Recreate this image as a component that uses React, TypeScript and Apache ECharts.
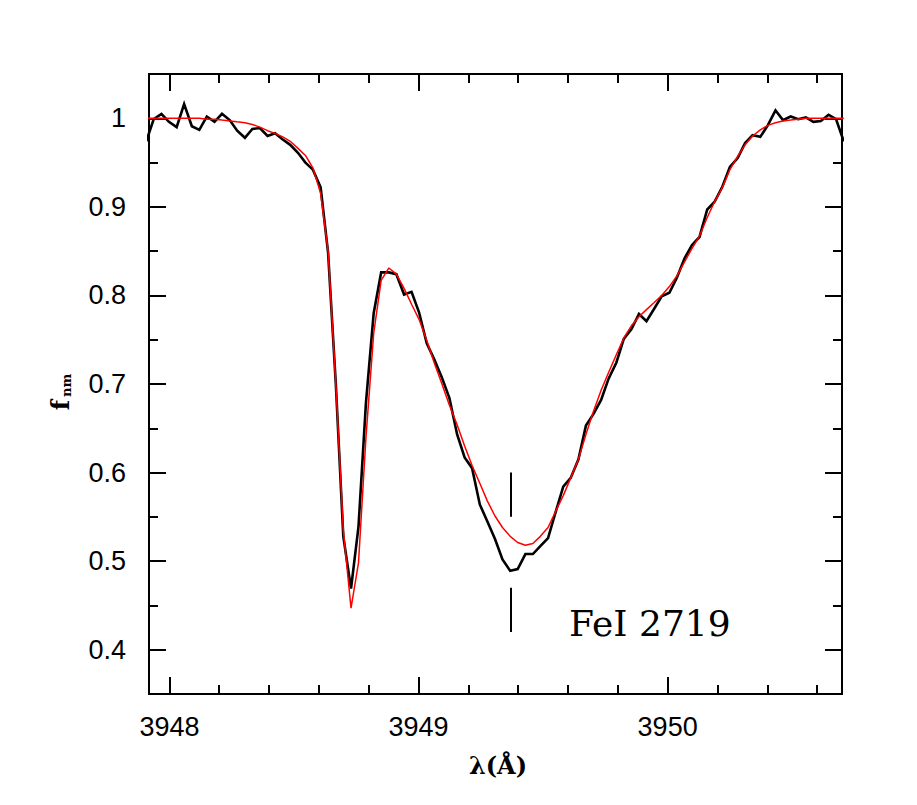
import React, { useEffect, useRef } from "react";
import * as echarts from "echarts";

// Wavelength grid of the spectrum (Å)
const WAVELENGTH = [
  3947.907, 3947.937, 3947.968, 3947.998, 3948.029, 3948.059, 3948.09, 3948.12, 3948.15, 3948.181,
  3948.211, 3948.242, 3948.272, 3948.303, 3948.333, 3948.363, 3948.394, 3948.424, 3948.455, 3948.485,
  3948.516, 3948.546, 3948.576, 3948.607, 3948.637, 3948.668, 3948.698, 3948.729, 3948.759, 3948.789,
  3948.82, 3948.85, 3948.881, 3948.911, 3948.942, 3948.972, 3949.002, 3949.033, 3949.063, 3949.094,
  3949.124, 3949.155, 3949.185, 3949.215, 3949.246, 3949.276, 3949.307, 3949.337, 3949.368, 3949.398,
  3949.429, 3949.459, 3949.489, 3949.52, 3949.55, 3949.581, 3949.611, 3949.642, 3949.672, 3949.702,
  3949.733, 3949.763, 3949.794, 3949.824, 3949.855, 3949.885, 3949.915, 3949.946, 3949.976, 3950.007,
  3950.037, 3950.068, 3950.098, 3950.128, 3950.159, 3950.189, 3950.22, 3950.25, 3950.281, 3950.311,
  3950.341, 3950.372, 3950.402, 3950.433, 3950.463, 3950.494, 3950.524, 3950.555, 3950.585, 3950.615,
  3950.646, 3950.676, 3950.707,
];

// Observed normalised flux
const OBSERVED_FLUX = [
  0.974, 0.999, 1.005, 0.996, 0.99, 1.016, 0.991, 0.987, 1.002, 0.996,
  1.005, 0.998, 0.986, 0.978, 0.988, 0.989, 0.98, 0.983, 0.976, 0.97,
  0.961, 0.95, 0.942, 0.922, 0.848, 0.7, 0.528, 0.469, 0.539, 0.679,
  0.78, 0.826, 0.826, 0.824, 0.801, 0.804, 0.781, 0.746, 0.728, 0.707,
  0.684, 0.643, 0.617, 0.605, 0.564, 0.545, 0.525, 0.502, 0.489, 0.491,
  0.508, 0.508, 0.517, 0.526, 0.555, 0.584, 0.594, 0.615, 0.653, 0.666,
  0.682, 0.706, 0.724, 0.751, 0.762, 0.779, 0.771, 0.785, 0.799, 0.803,
  0.82, 0.842, 0.857, 0.866, 0.897, 0.906, 0.923, 0.945, 0.955, 0.972,
  0.981, 0.979, 0.992, 1.009, 0.998, 1.002, 0.999, 1.001, 0.996, 0.997,
  1.004, 0.999, 0.974,
];

// Synthetic (fitted) flux
const MODEL_FLUX = [
  1.0, 1.0, 1.0, 1.0, 1.0, 1.0, 1.0, 1.0, 0.999, 0.999,
  0.998, 0.997, 0.996, 0.995, 0.993, 0.99, 0.986, 0.983, 0.979, 0.974,
  0.966, 0.958, 0.944, 0.915, 0.85, 0.7, 0.535, 0.447, 0.498, 0.64,
  0.757, 0.817, 0.831, 0.824, 0.808, 0.79, 0.773, 0.749, 0.724, 0.7,
  0.676, 0.654, 0.63, 0.608, 0.588, 0.568, 0.551, 0.538, 0.528, 0.521,
  0.518, 0.52, 0.528, 0.538, 0.556, 0.574, 0.594, 0.615, 0.643, 0.669,
  0.693, 0.713, 0.733, 0.752, 0.766, 0.776, 0.784, 0.792, 0.8, 0.81,
  0.822, 0.838, 0.853, 0.867, 0.888, 0.906, 0.922, 0.942, 0.957, 0.97,
  0.98, 0.987, 0.992, 0.995, 0.997, 0.998, 0.999, 1.0, 1.0, 1.0,
  1.0, 1.0, 1.0,
];

// Axis ranges and ticks
const X_MIN = 3947.918;
const X_MAX = 3950.7;
const Y_MIN = 0.35;
const Y_MAX = 1.05;
const X_MAJOR_TICKS = [3948, 3949, 3950];
const X_MINOR_TICKS = [
  3948.2, 3948.4, 3948.6, 3948.8, 3949.2, 3949.4, 3949.6, 3949.8, 3950.2, 3950.4, 3950.6,
];
const Y_MAJOR_TICKS = [0.4, 0.5, 0.6, 0.7, 0.8, 0.9, 1];
const Y_MINOR_TICKS = [0.45, 0.55, 0.65, 0.75, 0.85, 0.95];

// Line identification
const LINE_LABEL = "FeI 2719";
const LINE_CENTER = 3949.37;
const LINE_MARK_SPANS = [
  [0.55, 0.6],
  [0.42, 0.47],
];

const BLACK = "#000";
const TICK_FONT = "'Liberation Sans', Arial, Helvetica, sans-serif";
const SERIF = "'DejaVu Serif', 'Liberation Serif', serif";

function xAxis(position: string, values: number[], length: number, labels: boolean) {
  return {
    type: "value",
    position,
    min: X_MIN,
    max: X_MAX,
    axisLine: { show: true, onZero: false, lineStyle: { color: BLACK, width: 2 } },
    axisTick: {
      show: true,
      inside: true,
      length,
      customValues: values,
      lineStyle: { color: BLACK, width: 2 },
    },
    axisLabel: labels
      ? {
          show: true,
          customValues: values,
          margin: 19,
          fontFamily: TICK_FONT,
          fontSize: 27,
          color: BLACK,
          formatter: (v: number) => String(v),
        }
      : { show: false },
    splitLine: { show: false },
    minorTick: { show: false },
  };
}

function yAxis(position: string, values: number[], length: number, labels: boolean) {
  return {
    type: "value",
    position,
    min: Y_MIN,
    max: Y_MAX,
    axisLine: { show: true, onZero: false, lineStyle: { color: BLACK, width: 2 } },
    axisTick: {
      show: true,
      inside: true,
      length,
      customValues: values,
      lineStyle: { color: BLACK, width: 2 },
    },
    axisLabel: labels
      ? {
          show: true,
          customValues: values,
          margin: 23,
          fontFamily: TICK_FONT,
          fontSize: 27,
          color: BLACK,
          formatter: (v: number) => (v === 1 ? "1" : v.toFixed(1)),
        }
      : { show: false },
    splitLine: { show: false },
    minorTick: { show: false },
  };
}

export default function App() {
  const ref = useRef<HTMLDivElement>(null);

  useEffect(() => {
    if (!ref.current) return;
    const chart = echarts.init(ref.current, undefined, { renderer: "svg" });

    const observed = WAVELENGTH.map((w, i) => [w, OBSERVED_FLUX[i]]);
    const model = WAVELENGTH.map((w, i) => [w, MODEL_FLUX[i]]);

    chart.setOption({
      animation: false,
      backgroundColor: "#fff",
      grid: {
        left: 149,
        right: 75,
        top: 74,
        bottom: 111,
        containLabel: false,
        outerBoundsMode: "none",
      },
      xAxis: [
        xAxis("bottom", X_MAJOR_TICKS, 17, true),
        xAxis("bottom", X_MINOR_TICKS, 9, false),
        xAxis("top", X_MAJOR_TICKS, 17, false),
        xAxis("top", X_MINOR_TICKS, 9, false),
      ],
      yAxis: [
        yAxis("left", Y_MAJOR_TICKS, 17, true),
        yAxis("left", Y_MINOR_TICKS, 9, false),
        yAxis("right", Y_MAJOR_TICKS, 17, false),
        yAxis("right", Y_MINOR_TICKS, 9, false),
      ],
      series: [
        {
          name: "observed",
          type: "line",
          xAxisIndex: 0,
          yAxisIndex: 0,
          data: observed,
          showSymbol: false,
          symbol: "none",
          clip: true,
          lineStyle: { color: BLACK, width: 2.6, join: "miter" },
          z: 2,
          markLine: {
            silent: true,
            symbol: ["none", "none"],
            label: { show: false },
            lineStyle: { color: BLACK, width: 2, type: "solid" },
            data: LINE_MARK_SPANS.map(([a, b]) => [
              { coord: [LINE_CENTER, a] },
              { coord: [LINE_CENTER, b] },
            ]),
          },
        },
        {
          name: "model",
          type: "line",
          xAxisIndex: 0,
          yAxisIndex: 0,
          data: model,
          showSymbol: false,
          symbol: "none",
          clip: true,
          lineStyle: { color: "#ff0000", width: 1.5 },
          z: 3,
        },
      ],
      graphic: [
        {
          type: "group",
          x: 60,
          y: 400,
          rotation: Math.PI / 2,
          children: [
            {
              type: "text",
              x: 0,
              y: 0,
              style: {
                text: "f",
                font: `bold 24px ${SERIF}`,
                fill: BLACK,
                align: "right",
                verticalAlign: "middle",
              },
            },
            {
              type: "text",
              x: 3,
              y: 6,
              style: {
                text: "nm",
                font: `bold 13px ${SERIF}`,
                fill: BLACK,
                align: "left",
                verticalAlign: "middle",
              },
            },
          ],
        },
        {
          type: "text",
          x: 498,
          y: 765,
          style: {
            text: "λ(Å)",
            font: `bold 24px ${SERIF}`,
            fill: BLACK,
            align: "center",
            verticalAlign: "middle",
          },
        },
        {
          type: "text",
          x: 569,
          y: 623,
          style: {
            text: LINE_LABEL,
            font: `36px ${SERIF}`,
            fill: BLACK,
            align: "left",
            verticalAlign: "middle",
          },
        },
      ],
    });

    return () => chart.dispose();
  }, []);

  return (
    <div
      ref={ref}
      style={{ position: "fixed", left: 0, top: 0, width: 917, height: 805, background: "#fff" }}
    />
  );
}
